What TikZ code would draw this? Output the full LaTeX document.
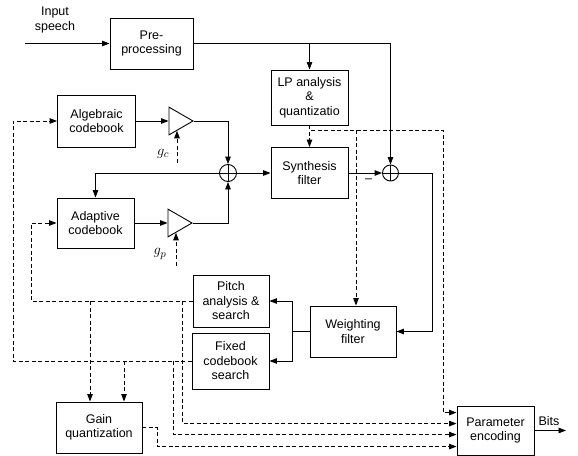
\documentclass[tikz,border=0pt]{standalone}
\usepackage{fontspec}
\setmainfont{Liberation Sans}
\usetikzlibrary{arrows.meta,shapes.geometric,calc}
\begin{document}
\begin{tikzpicture}[x=1pt,y=-1pt,
  font=\fontsize{12.5}{14.5}\selectfont,
  >={Triangle[length=7.5pt,width=5.5pt]},
  line width=0.9pt,
  blk/.style={draw,rectangle,align=center,inner sep=0pt},
  amp/.style={draw,regular polygon,regular polygon sides=3,shape border rotate=-90,minimum size=32pt,inner sep=0pt},
  sumnode/.style={draw,circle,minimum size=17pt,inner sep=0pt,path picture={\draw (path picture bounding box.north) -- (path picture bounding box.south) (path picture bounding box.west) -- (path picture bounding box.east);}},
  dsh/.style={dash pattern=on 4pt off 2.5pt},
  gain/.style={font=\fontsize{15}{15}\selectfont}
]
\useasboundingbox (0,0) rectangle (578,455);

% blocks
\node[blk,minimum width=83pt,minimum height=51pt] (pre) at (151.5,43.5) {Pre-\\processing};
\node[blk,minimum width=77pt,minimum height=55pt] (lp) at (309.5,97.5) {LP analysis\\\&\\quantizatio};
\node[blk,minimum width=77pt,minimum height=51pt] (syn) at (309.5,173) {Synthesis\\filter};
\node[blk,minimum width=78pt,minimum height=52pt] (alg) at (96.5,121) {Algebraic\\codebook};
\node[blk,minimum width=77pt,minimum height=50pt] (ada) at (95.5,223) {Adaptive\\codebook};
\node[amp] (a1) at (177,121) {};
\node[amp] (a2) at (176,223) {};
\node[sumnode] (s1) at (228,173) {};
\node[sumnode,minimum size=16pt] (s2) at (390.5,173) {};
\node[blk,minimum width=86pt,minimum height=51pt] (wf) at (353,331.5) {Weighting\\filter};
\node[blk,minimum width=76pt,minimum height=52pt] (pa) at (231,301) {Pitch\\analysis \&\\search};
\node[blk,minimum width=77pt,minimum height=56pt] (fs) at (230.5,361) {Fixed\\codebook\\search};
\node[blk,minimum width=86pt,minimum height=51pt] (gq) at (99,427.5) {Gain\\quantization};
\node[blk,minimum width=77pt,minimum height=49pt] (pe) at (495.5,430.5) {Parameter\\encoding};

% labels
\node[align=center] (inp) at (55,20) {Input\\speech};
\node[gain] (gc) at (163,154) {$g_c$};
\node[gain] (gp) at (160,254) {$g_p$};
\node (minus) at (368.5,181) {–};
\node (bits) at (549,421) {Bits};

% coordinates
\coordinate (in) at (25,43.5);
\coordinate (out) at (566,430.5);
\coordinate (k1) at (432,331.5);
\coordinate (k2) at (443,130);
\coordinate (k3) at ($(wf.north)+(3,0)$);
\coordinate (k4) at ($(wf.west)+(-17,0)$);
\coordinate (L1) at (31,301);
\coordinate (L2) at (13,361);
\coordinate (g1) at ($(gq.north)+(-9,0)$);
\coordinate (g2) at ($(gq.north)+(25,0)$);
\coordinate (p1) at ($(pe.north west)+(0,7)$);
\coordinate (p2) at ($(pe.north west)+(0,18)$);
\coordinate (p3) at ($(pe.north west)+(0,29)$);
\coordinate (p4) at ($(pe.north west)+(0,41)$);
\coordinate (d1) at ($(pa.west)+(-10,0)$);
\coordinate (d2) at ($(fs.west)+(-18,0)$);

% solid connectors
\draw[->] (in) -- (pre.west);
\draw[->] (pre.east) -| (s2.north);
\draw[->] (pre.east -| lp.north) -- (lp.north);
\draw[->] (alg.east) -- (a1.west);
\draw[->] (ada.east) -- (a2.west);
\draw[->] (a1.east) -| (s1.north);
\draw[->] (a2.east) -| (s1.south);
\draw[->] (s1.east) -- (syn.west);
\draw[->] (s1.west) -| (ada.north);
\draw[->] (syn.east) -- (s2.west);
\draw[->] (s2.east) -| (k1) -- (wf.east);
\draw (wf.west) -- (k4);
\draw[->] (k4) |- (pa.east);
\draw[->] (k4) |- (fs.east);
\draw[->] (pe.east) -- (out);

% dashed connectors
\draw[dsh,->] ($(a1.south)+(0,32)$) -- (a1.south);
\draw[dsh,->] ($(a2.south)+(0,33)$) -- (a2.south);
\draw[dsh,->] (lp.south) -- (syn.north);
\draw[dsh,->] (lp.south) |- (k2) |- (p1);
\draw[dsh,->] (k3 |- k2) -- (k3);
\draw[dsh,->] (pa.west) -- (L1) |- (ada.west);
\draw[dsh,->] (fs.west) -- (L2) |- (alg.west);
\draw[dsh,->] (g1 |- pa.west) -- (g1);
\draw[dsh,->] (g2 |- fs.west) -- (g2);
\draw[dsh,->] (d1) |- (p2);
\draw[dsh,->] (d2) |- (p3);
\draw[dsh,->] (gq.east) -- ++(15,0) |- (p4);
\end{tikzpicture}
\end{document}
